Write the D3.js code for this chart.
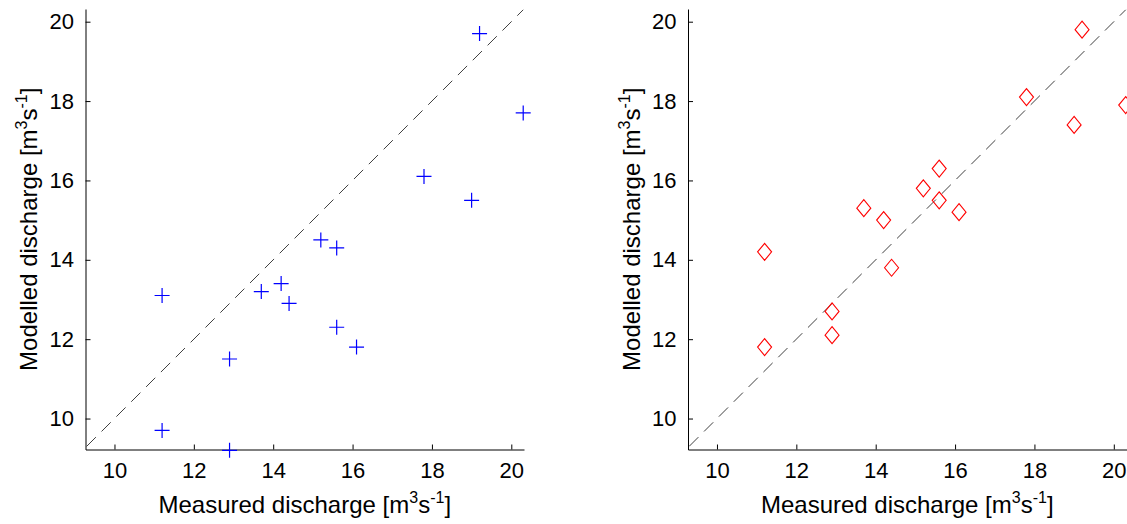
<!DOCTYPE html>
<html>
<head>
<meta charset="utf-8">
<script src="https://cdn.jsdelivr.net/npm/d3@7"></script>
<style>
  html, body { margin: 0; padding: 0; background: #fff; }
  svg { display: block; }
  text { font-family: "Liberation Sans", Arial, sans-serif; fill: #000; }
</style>
</head>
<body>
<svg id="chart" width="1127" height="524"></svg>
<script>
// Measured discharge (x) shared by both panels
const measured = [11.2, 11.2, 12.9, 12.9, 13.7, 14.2, 14.4, 15.2, 15.6, 15.6, 16.1, 17.8, 19.0, 19.2, 20.3];
// Left panel modelled values (blue +)
const modelledLeft = [13.1, 9.7, 11.5, 9.2, 13.2, 13.4, 12.9, 14.5, 14.3, 12.3, 11.8, 16.1, 15.5, 19.7, 17.7];
// Right panel modelled values (red diamonds)
const modelledRight = [14.2, 11.8, 12.7, 12.1, 15.3, 15.0, 13.8, 15.8, 16.3, 15.5, 15.2, 18.1, 17.4, 19.8, 17.9];
const tickValues = [10, 12, 14, 16, 18, 20];
const xDomain = [9.27, 20.32];
const yDomain = [9.22, 20.32];
const oneToOne = [9.3, 20.3];

const svg = d3.select("#chart");

const panels = [
  { left: 85.5, right: 524, values: modelledLeft, marker: "plus", color: "#0000ff", ylabelX: 37 },
  { left: 688, right: 1126.5, values: modelledRight, marker: "diamond", color: "#ff0000", ylabelX: 640 }
];
const plotTop = 9, plotBottom = 449.5;

function addUnitsLabel(textSel, base) {
  textSel.append("tspan").text(base + " [m");
  textSel.append("tspan").attr("font-size", 16).attr("dy", -10).text("3");
  textSel.append("tspan").attr("dy", 10).text("s");
  textSel.append("tspan").attr("font-size", 16).attr("dy", -10).text("-1");
  textSel.append("tspan").attr("dy", 10).text("]");
}

panels.forEach(p => {
  const x = d3.scaleLinear().domain(xDomain).range([p.left, p.right]);
  const y = d3.scaleLinear().domain(yDomain).range([plotBottom, plotTop]);
  const g = svg.append("g");

  // 1:1 dashed line
  g.append("line")
    .attr("x1", x(oneToOne[0])).attr("y1", y(oneToOne[0]))
    .attr("x2", x(oneToOne[1])).attr("y2", y(oneToOne[1]))
    .attr("stroke", "#404040").attr("stroke-width", 1)
    .attr("stroke-dasharray", "13,8");

  // axes
  const xAxis = d3.axisBottom(x).tickValues(tickValues).tickSizeInner(-5).tickSizeOuter(0).tickPadding(13);
  const yAxis = d3.axisLeft(y).tickValues(tickValues).tickSizeInner(-5).tickSizeOuter(0).tickPadding(11.5);

  const gx = g.append("g").attr("transform", `translate(0,${plotBottom})`).call(xAxis);
  const gy = g.append("g").attr("transform", `translate(${p.left},0)`).call(yAxis);
  [gx, gy].forEach(a => {
    a.select(".domain").attr("stroke", "#000").attr("stroke-width", 1);
    a.selectAll(".tick line").attr("stroke", "#000");
    a.selectAll(".tick text").attr("font-size", 22).attr("font-family", "Liberation Sans, Arial, sans-serif").attr("fill", "#000");
  });
  gx.selectAll(".tick text").attr("dy", "0.71em");

  // markers
  const pts = measured.map((m, i) => [m, p.values[i]]);
  const mg = g.append("g");
  if (p.marker === "plus") {
    const h = 7.5;
    mg.selectAll("path").data(pts).join("path")
      .attr("d", d => {
        const cx = x(d[0]), cy = y(d[1]);
        return `M${cx - h},${cy}H${cx + h}M${cx},${cy - h}V${cy + h}`;
      })
      .attr("stroke", p.color).attr("stroke-width", 1.2).attr("fill", "none");
  } else {
    const hw = 7, hh = 8.5;
    mg.selectAll("path").data(pts).join("path")
      .attr("d", d => {
        const cx = x(d[0]), cy = y(d[1]);
        return `M${cx},${cy - hh}L${cx + hw},${cy}L${cx},${cy + hh}L${cx - hw},${cy}Z`;
      })
      .attr("stroke", p.color).attr("stroke-width", 1.1).attr("fill", "none");
  }

  // x label
  const xl = g.append("text")
    .attr("x", (p.left + p.right) / 2).attr("y", 513)
    .attr("text-anchor", "middle").attr("font-size", 24);
  addUnitsLabel(xl, "Measured discharge");

  // y label
  const cy = (plotTop + plotBottom) / 2;
  const yl = g.append("text")
    .attr("transform", `translate(${p.ylabelX},${cy}) rotate(-90)`)
    .attr("text-anchor", "middle").attr("font-size", 24);
  addUnitsLabel(yl, "Modelled discharge");
});
</script>
</body>
</html>
